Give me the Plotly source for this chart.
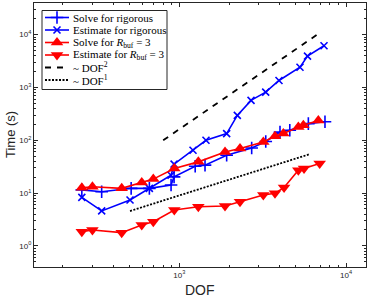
import plotly.graph_objects as go

# ---- data ----
solve_rig_x = [260, 342, 514, 661, 892, 930, 1245, 1426, 1923, 2717, 3300, 4018, 4600, 5944, 7480]
solve_rig_y = [11.5, 10.6, 12.3, 12.3, 14.2, 20.3, 32.3, 33.8, 52, 71.6, 95, 143, 155, 207, 225]

est_rig_x = [260, 342, 506, 661, 892, 930, 1208, 1445, 1923, 2228, 2693, 3297, 3963, 5296, 5875, 7380]
est_rig_y = [8.3, 4.6, 7.4, 12.3, 21.8, 35.3, 64.7, 100, 134, 296, 569, 815, 1355, 2417, 3930, 6170]

solve_buf_x = [260, 301, 451, 595, 698, 933, 1300, 1880, 2312, 3191, 3749, 4207, 5177, 5548, 6823]
solve_buf_y = [12.6, 13.2, 12.3, 15.9, 18.4, 29.2, 39, 60, 69.7, 92.9, 119, 134, 178, 192, 238]

est_buf_x = [260, 301, 451, 595, 698, 933, 1300, 1880, 2312, 3191, 3749, 4250, 5177, 5600, 6950]
est_buf_y = [1.86, 2.0, 1.78, 2.49, 2.87, 4.78, 5.5, 5.7, 6.85, 9.2, 9.9, 12.8, 27.2, 29.2, 36.3]

dof2_x = [800, 6800]
dof2_y = [100, 10300]
dof1_x = [506, 6030]
dof1_y = [4.57, 54.4]

x_tickvals = [1e3, 1e4]
x_ticktext = ["10<sup>3</sup>", "10<sup>4</sup>"]
y_tickvals = [1, 10, 100, 1e3, 1e4]
y_ticktext = ["10<sup>0</sup>", "10<sup>1</sup>", "10<sup>2</sup>", "10<sup>3</sup>", "10<sup>4</sup>"]

labels = ["Solve for rigorous", "Estimate for rigorous",
          "Solve for <i>R</i><sub>buf</sub> = 3", "Estimate for <i>R</i><sub>buf</sub> = 3",
          "~ DOF<sup>2</sup>", "~ DOF<sup>1</sup>"]

BLUE = "rgb(0,0,255)"
RED = "rgb(255,0,0)"
AX = "#262626"

# plot area geometry (pixels)
W, H = 371, 300
L, R, T, B = 34, 5, 3, 33
PW, PH = W - L - R, H - T - B

styles = [
    dict(mode="lines+markers", line=dict(color=BLUE, width=1.6),
         marker=dict(symbol="cross-thin-open", size=9, color=BLUE, line=dict(color=BLUE, width=1.6))),
    dict(mode="lines+markers", line=dict(color=BLUE, width=1.6),
         marker=dict(symbol="x-thin-open", size=7, color=BLUE, line=dict(color=BLUE, width=1.6))),
    dict(mode="lines+markers", line=dict(color=RED, width=1.6),
         marker=dict(symbol="triangle-up", size=11, color=RED)),
    dict(mode="lines+markers", line=dict(color=RED, width=1.6),
         marker=dict(symbol="triangle-down", size=11, color=RED)),
    dict(mode="lines", line=dict(color="black", width=1.8, dash="6px,6px")),
    dict(mode="lines", line=dict(color="black", width=1.8, dash="2px,1.5px")),
]
series = [(solve_rig_x, solve_rig_y), (est_rig_x, est_rig_y), (solve_buf_x, solve_buf_y),
          (est_buf_x, est_buf_y), (dof2_x, dof2_y), (dof1_x, dof1_y)]

fig = go.Figure()
for (sx, sy), st, lab in zip(series, styles, labels):
    fig.add_trace(go.Scatter(x=sx, y=sy, name=lab, showlegend=False, **st))

# ---- manual legend (compact, MATLAB-like) on an overlay unit axis ----
def px2paper_x(px):
    return (px - L) / PW

def px2paper_y(py):
    return (H - B - py) / PH

leg_x0, leg_x1, leg_y0, leg_y1 = 42, 167, 10.5, 89.5
row0, row_step = 17.5, 12.5
samp_x0, samp_x1, text_x = 45, 69, 70.5

for i, (st, lab) in enumerate(zip(styles, labels)):
    ry = px2paper_y(row0 + i * row_step)
    x0, x1 = px2paper_x(samp_x0), px2paper_x(samp_x1)
    line_only = {k: v for k, v in st.items() if k != "marker"}
    line_only["mode"] = "lines"
    fig.add_trace(go.Scatter(x=[x0, x1], y=[ry, ry], xaxis="x2", yaxis="y2",
                             showlegend=False, hoverinfo="skip", **line_only))
    if "markers" in st["mode"]:
        fig.add_trace(go.Scatter(x=[(x0 + x1) / 2], y=[ry], xaxis="x2", yaxis="y2",
                                 showlegend=False, hoverinfo="skip", mode="markers",
                                 marker=st["marker"]))
    fig.add_annotation(x=px2paper_x(text_x), y=ry, xref="paper", yref="paper", text=lab,
                       showarrow=False, xanchor="left", yanchor="middle",
                       font=dict(family="Liberation Serif, Times New Roman", size=11, color="black"))

fig.add_shape(type="rect", xref="paper", yref="paper", layer="below",
              x0=px2paper_x(leg_x0), x1=px2paper_x(leg_x1),
              y0=px2paper_y(leg_y1), y1=px2paper_y(leg_y0),
              fillcolor="white", line=dict(color=AX, width=1))

def minor_vals(lo, hi):
    vals = []
    for e in range(lo, hi + 1):
        for m in range(2, 10):
            vals.append(m * 10 ** e)
    return vals

axis_common = dict(
    type="log", showgrid=False, zeroline=False, showline=True, linecolor=AX,
    linewidth=1, mirror="ticks", ticks="inside", ticklen=4, tickcolor=AX,
    tickfont=dict(family="Liberation Sans, Arial", size=8, color=AX), automargin=False,
)

fig.update_layout(
    xaxis=dict(**axis_common, range=[2.128, 4.12], tickmode="array",
               tickvals=x_tickvals, ticktext=x_ticktext,
               minor=dict(ticks="inside", ticklen=2, tickcolor=AX, tickmode="array",
                          tickvals=minor_vals(2, 4))),
    yaxis=dict(**axis_common, range=[-0.4, 4.6], tickmode="array",
               tickvals=y_tickvals, ticktext=y_ticktext,
               minor=dict(ticks="inside", ticklen=2, tickcolor=AX, tickmode="array",
                          tickvals=minor_vals(-1, 4))),
    xaxis2=dict(overlaying="x", range=[0, 1], visible=False, fixedrange=True),
    yaxis2=dict(overlaying="y", range=[0, 1], visible=False, fixedrange=True),
    width=W, height=H,
    margin=dict(l=L, r=R, t=T, b=B),
    paper_bgcolor="white", plot_bgcolor="white",
    showlegend=False,
)

fig.add_annotation(x=px2paper_x(200), y=px2paper_y(290), xref="paper", yref="paper", text="DOF",
                   showarrow=False, xanchor="center", yanchor="middle",
                   font=dict(family="Liberation Sans, Arial", size=14, color=AX))
fig.add_annotation(x=px2paper_x(10), y=px2paper_y(135), xref="paper", yref="paper", text="Time (s)",
                   showarrow=False, xanchor="center", yanchor="middle", textangle=-90,
                   font=dict(family="Liberation Sans, Arial", size=13, color=AX))

fig.write_html("out.html", config={"displayModeBar": False},
               post_script="document.body.style.margin='0';document.body.style.padding='0';")
